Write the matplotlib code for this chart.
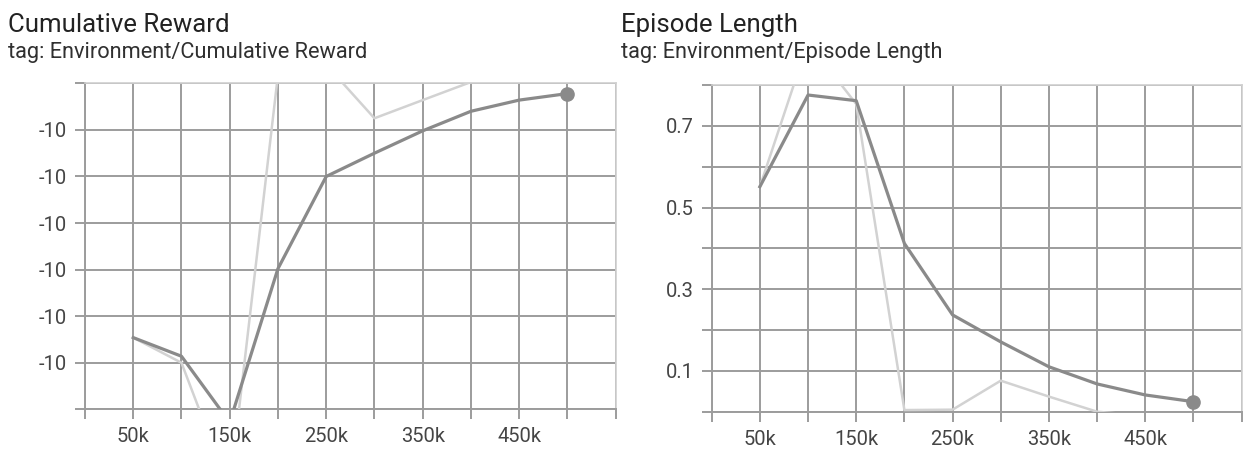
import matplotlib
matplotlib.use("Agg")
import matplotlib.pyplot as plt
import numpy as np

plt.rcParams['font.family'] = ['Roboto', 'DejaVu Sans']

# pasos de entrenamiento
steps = [50000, 100000, 150000, 200000, 250000, 300000, 350000, 400000, 450000, 500000]

# Cumulative Reward: crudo (claro) y suavizado (oscuro)
reward_raw = [-10.223, -10.250, -10.386, -9.941, -9.930, -9.9875, -9.968, -9.9486, -9.925, -9.936]
reward_smooth = [-10.223, -10.243, -10.314, -10.149, -10.050, -10.025, -10.001, -9.980, -9.968, -9.961]

# Episode Length: crudo (claro) y suavizado (oscuro)
length_raw = [0.551, 0.905, 0.7535, 0.004, 0.005, 0.076, 0.037, 0.0, -0.01, -0.005]
length_smooth = [0.551, 0.7755, 0.7616, 0.412, 0.237, 0.171, 0.110, 0.068, 0.041, 0.0245]

x_ticks = list(range(0, 550001, 50000))
x_labels = ['', '50k', '', '150k', '', '250k', '', '350k', '', '450k', '', '']

reward_ticks = [-10.30, -10.25, -10.20, -10.15, -10.10, -10.05, -10.00, -9.95]
reward_labels = ['', '-10', '-10', '-10', '-10', '-10', '-10', '']

length_ticks = [0.0, 0.1, 0.2, 0.3, 0.4, 0.5, 0.6, 0.7, 0.8]
length_labels = ['', '0.1', '', '0.3', '', '0.5', '', '0.7', '']

dark = '#8a8a8a'
light = '#d2d2d2'
grid = '#9c9c9c'

fig = plt.figure(figsize=(12.44, 4.5), dpi=100)

def panel(rect, raw, smooth, yticks, ylabels, ylim):
    ax = fig.add_axes(rect)
    ax.plot(steps, raw, color=light, lw=1.8, zorder=3)
    ax.plot(steps, smooth, color=dark, lw=2.3, zorder=4)
    ax.plot(steps[-1], smooth[-1], 'o', color=dark, ms=9.5, zorder=5)
    ax.set_xlim(0, 549000)
    ax.set_ylim(*ylim)
    ax.set_xticks(x_ticks)
    ax.set_xticklabels(x_labels)
    ax.set_yticks(yticks)
    ax.set_yticklabels(ylabels)
    ax.grid(True, color=grid, lw=1.4, zorder=1)
    ax.tick_params(axis='both', colors=grid, labelcolor='#454545', labelsize=14.5,
                   width=1.4, length=7, direction='out', pad=6)
    for side in ['left', 'bottom']:
        ax.spines[side].set_color(grid)
        ax.spines[side].set_linewidth(1.4)
    for side in ['top', 'right']:
        ax.spines[side].set_color('#d0d0d0')
        ax.spines[side].set_linewidth(1.2)
    return ax

panel([0.0683, 0.0904, 0.4266, 0.7244], reward_raw, reward_smooth,
      reward_ticks, reward_labels, (-10.30, -9.95))
panel([0.5721, 0.0851, 0.4260, 0.7260], length_raw, length_smooth,
      length_ticks, length_labels, (0.0, 0.8))

fig.text(8 / 1244, 1 - 31.7 / 450, 'Cumulative Reward', fontsize=18.5, color='#222222', va='baseline')
fig.text(8 / 1244, 1 - 58.3 / 450, 'tag: Environment/Cumulative Reward', fontsize=15.7, color='#303030', va='baseline')
fig.text(621 / 1244, 1 - 31.7 / 450, 'Episode Length', fontsize=18.5, color='#222222', va='baseline')
fig.text(621 / 1244, 1 - 58.3 / 450, 'tag: Environment/Episode Length', fontsize=15.7, color='#303030', va='baseline')

fig.savefig('out.png', dpi=100)
